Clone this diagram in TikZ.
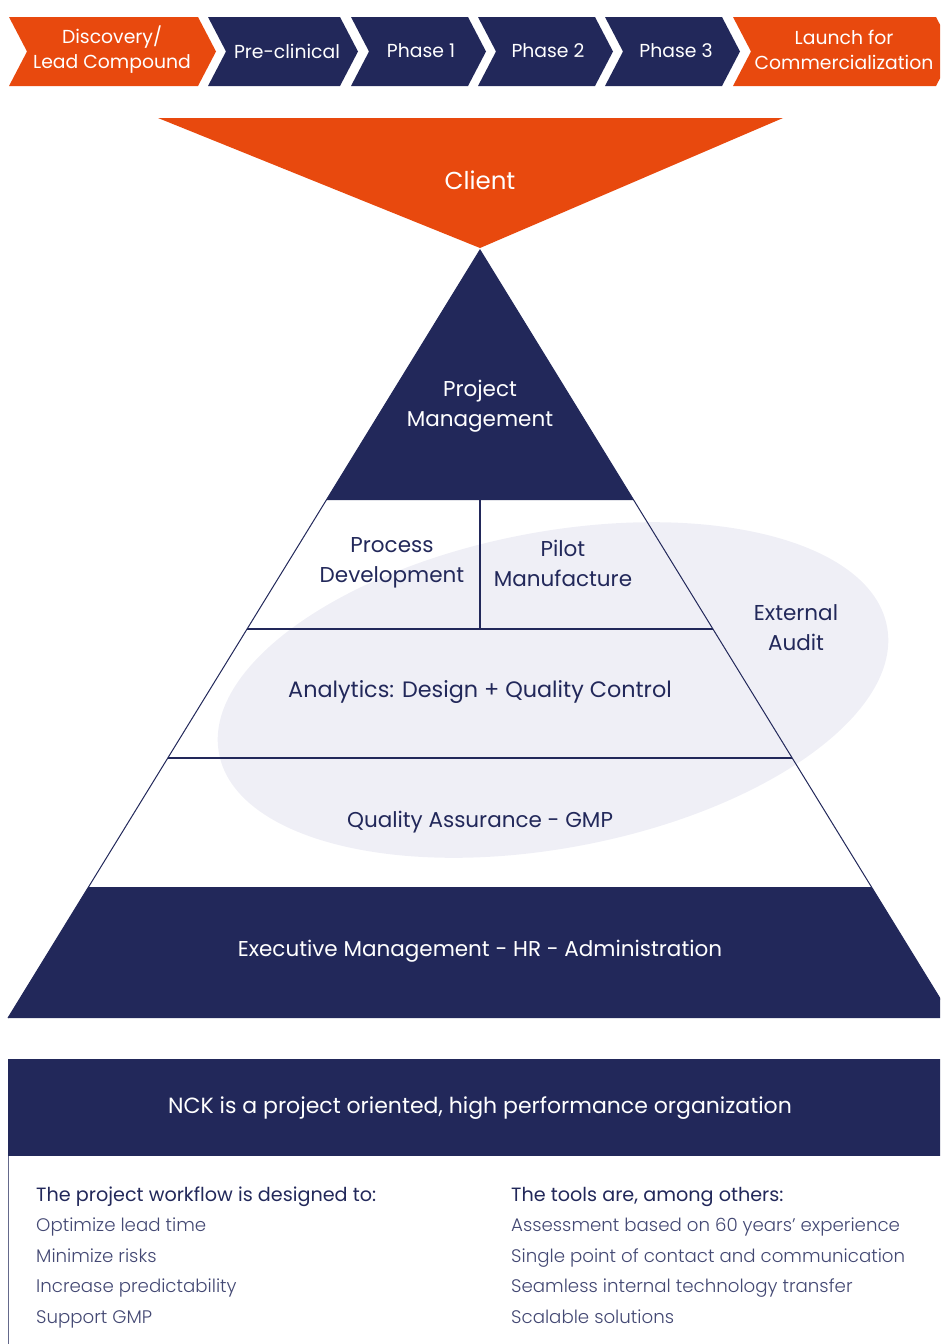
\documentclass[tikz,border=0pt]{standalone}
\usepackage{fontspec}
\setmainfont{Poppins}
\newfontfamily\thinfont{Poppins Light}
\usetikzlibrary{calc}
\definecolor{nckblue}{RGB}{34,40,90}
\definecolor{nckorange}{RGB}{232,73,14}
\definecolor{auditgray}{RGB}{239,239,246}

\begin{document}
\begin{tikzpicture}[x=1pt, y=-1pt,
    phase/.style={text=white, font=\fontsize{18.8}{25}\selectfont, align=center, inner sep=0pt},
    tier/.style={text=nckblue, font=\fontsize{21.5}{30}\selectfont, align=center, inner sep=0pt},
    tierline/.style={draw=nckblue, line width=1.2pt},
    listhead/.style={text=nckblue, font=\fontsize{19.2}{22}\selectfont, anchor=base west, inner sep=0pt},
    listitem/.style={text=nckblue!85, font=\thinfont\fontsize{18.2}{22}\selectfont, anchor=base west, inner sep=0pt}]
    \clip (0,0) rectangle (940,1344);

    % phase chevrons
    \fill[nckorange] (9,17) -- (198,17) -- (216,51.5) -- (198,86) -- (9,86) -- (27,51.5) -- cycle;
    \fill[nckblue] (208,17) -- (340,17) -- (358,51.5) -- (340,86) -- (208,86) -- (226,51.5) -- cycle;
    \fill[nckblue] (351,17) -- (468,17) -- (486,51.5) -- (468,86) -- (351,86) -- (369,51.5) -- cycle;
    \fill[nckblue] (478,17) -- (595,17) -- (613,51.5) -- (595,86) -- (478,86) -- (496,51.5) -- cycle;
    \fill[nckblue] (605,17) -- (722,17) -- (740,51.5) -- (722,86) -- (605,86) -- (623,51.5) -- cycle;
    \fill[nckorange] (733,17) -- (936,17) -- (954,51.5) -- (936,86) -- (733,86) -- (751,51.5) -- cycle;
    \node[phase] at (112, 50) (discovery) {Discovery/\\Lead Compound};
    \node[phase] at (287, 51) (preclin) {Pre-clinical};
    \node[phase] at (421, 51) (phaseone) {Phase 1};
    \node[phase] at (548, 51) (phasetwo) {Phase 2};
    \node[phase] at (676, 51) (phasethree) {Phase 3};
    \node[phase] at (844, 50) (launch) {Launch for\\Commercialization};

    % client funnel
    \fill[nckorange] (158,118) -- (783,118) -- (480,248) -- cycle;
    \node[text=white, font=\fontsize{24.5}{30}\selectfont] at (480, 180) (client) {Client};

    % external audit ellipse
    \fill[auditgray, rotate around={10.8:(553,690)}] (553,690) ellipse [x radius=340, y radius=158];

    % pyramid
    \coordinate (apex) at (480,250);
    \coordinate (bl) at (8,1018);
    \coordinate (br) at (952,1018);
    \fill[nckblue] (apex) -- ($(apex)!0.32552!(bl)$) -- ($(apex)!0.32552!(br)$) -- cycle;
    \fill[nckblue] ($(apex)!0.82943!(bl)$) -- (bl) -- (br) -- ($(apex)!0.82943!(br)$) -- cycle;
    \draw[nckblue, line width=1pt] (bl) -- (apex) -- (br);
    \draw[tierline] ($(apex)!0.49349!(bl)$) -- ($(apex)!0.49349!(br)$);
    \draw[tierline] ($(apex)!0.66146!(bl)$) -- ($(apex)!0.66146!(br)$);
    \draw[tierline] (480,500) -- (480,629);

    \node[tier, text=white] at (480, 406) (projmgmt) {Project\\Management};
    \node[tier] at (392, 563) (procdev) {Process\\Development};
    \node[tier] at (563, 563) (pilot) {Pilot\\Manufacture};
    \node[tier] at (796, 628) (audit) {External\\Audit};
    \node[tier, font=\fontsize{22.3}{30}\selectfont] at (480, 692) (analytics) {Analytics: Design + Quality Control};
    \node[tier] at (480, 822) (qa) {Quality Assurance - GMP};
    \node[tier, text=white] at (480, 951) (exec) {Executive Management - HR - Administration};

    % organization box
    \fill[nckblue] (8,1059) rectangle (950,1156);
    \draw[nckblue!70, line width=1pt] (8,1156) -- (8,1350);
    \node[text=white, font=\fontsize{22}{26}\selectfont] at (480, 1108) (nck) {NCK is a project oriented, high performance organization};

    \node[listhead] at (36, 1201) (workflow) {The project workflow is designed to:};
    \node[listitem] at (36, 1231) (leadtime) {Optimize lead time};
    \node[listitem] at (36, 1262) (risks) {Minimize risks};
    \node[listitem] at (36, 1292) (predict) {Increase predictability};
    \node[listitem] at (36, 1323) (gmp) {Support GMP};

    \node[listhead] at (511, 1201) (tools) {The tools are, among others:};
    \node[listitem] at (511, 1231) (assess) {Assessment based on 60 years’ experience};
    \node[listitem] at (511, 1262) (contact) {Single point of contact and communication};
    \node[listitem] at (511, 1292) (transfer) {Seamless internal technology transfer};
    \node[listitem] at (511, 1323) (scalable) {Scalable solutions};
  \end{tikzpicture}
\end{document}
